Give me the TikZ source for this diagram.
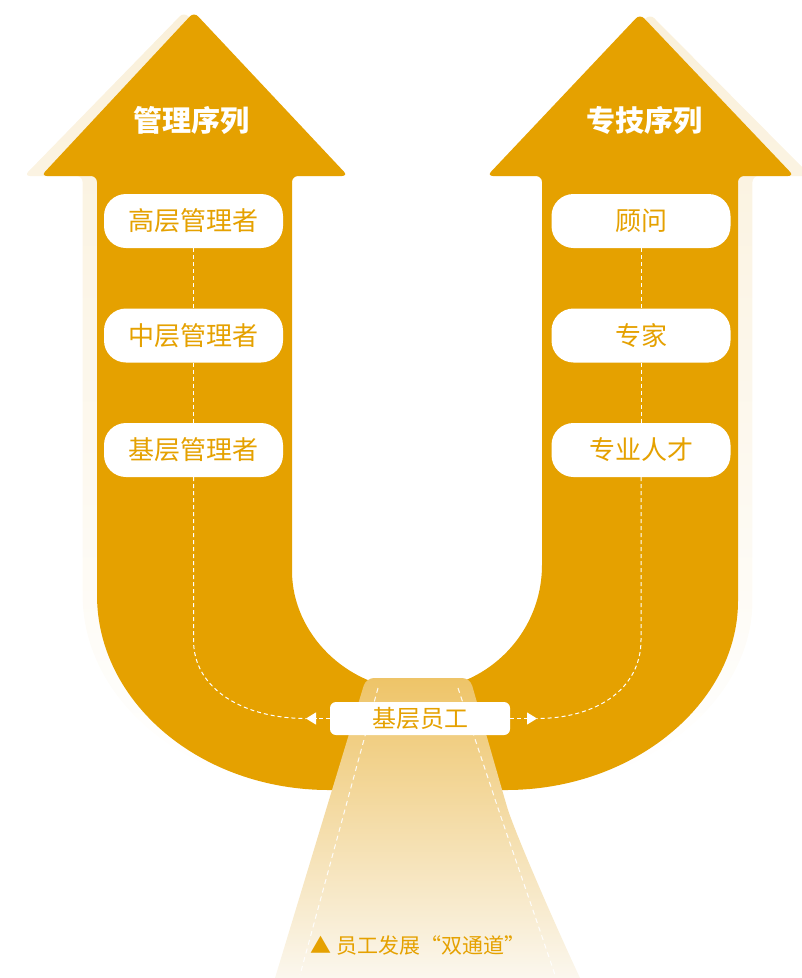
\documentclass[tikz,border=0pt]{standalone}
\usepackage{fontspec}
\setmainfont{Noto Sans CJK SC}
\usetikzlibrary{arrows.meta}
\definecolor{org}{RGB}{229,161,0}
\definecolor{cream}{RGB}{250,240,218}
\definecolor{roadtop}{RGB}{238,196,104}
\definecolor{roadbot}{RGB}{251,247,238}
\newcommand\Upath{(97,400) [rounded corners=6pt] -- (97,176) -- (41,176) -- (194,12) -- (348,176) -- (292,176) -- (292,565) [sharp corners] arc[start angle=180,end angle=0,radius=125] [rounded corners=6pt] -- (542,176) -- (487,176) -- (640,14) -- (794,176) -- (738,176) -- (738,595) [sharp corners] arc[start angle=0,end angle=90,x radius=232,y radius=195] -- (329,790) arc[start angle=90,end angle=180,x radius=232,y radius=195] -- cycle}
\tikzset{
  pill/.style={fill=white, rounded corners=22pt, minimum width=179pt, minimum height=54pt, inner sep=0pt, text=org, font=\fontsize{26}{26}\selectfont},
  basebox/.style={fill=white, rounded corners=6pt, minimum width=180pt, minimum height=33pt, inner sep=0pt, text=org, font=\fontsize{24}{24}\selectfont},
  title/.style={text=white, font=\fontsize{29}{29}\selectfont\bfseries, inner sep=0pt},
  udash/.style={white, line width=1pt, dash pattern=on 4pt off 3pt},
  rdash/.style={white, opacity=0.9, line width=1pt, dash pattern=on 5pt off 4pt}
}
\begin{document}
\begin{tikzpicture}[x=1pt,y=-1pt]
\useasboundingbox (0,0) rectangle (802,978);
% shadow
\begin{scope}[xshift=417pt, xscale=1.045, xshift=-417pt]
\shade[top color=cream, bottom color=white] \Upath;
\end{scope}
% U arrow
\fill[org] \Upath;
% road
\shade[top color=roadtop, bottom color=roadbot] (275,978) [rounded corners=8pt] -- (366,678) -- (470,678) -- (505,800) [sharp corners] .. controls (514,830) and (552,918) .. (580,978) -- cycle;
\draw[rdash] (378,688) -- (300,975);
\draw[rdash] (458,688) -- (492,790) .. controls (500,815) and (540,930) .. (555,975);
% titles
\node[title] (t1) at (191,120) {管理序列};
\node[title] (t2) at (644,120) {专技序列};
% boxes
\node[pill] (hl) at (193.5,221) {高层管理者};
\node[pill] (ml) at (193.5,335.5) {中层管理者};
\node[pill] (bl) at (193.5,450) {基层管理者};
\node[pill] (gw) at (641,221) {顾问};
\node[pill] (zj) at (641,335.5) {专家};
\node[pill] (zy) at (641,450) {专业人才};
\node[basebox] (ee) at (420,718.5) {基层员工};
\node[text=org, font=\fontsize{21}{21}\selectfont, inner sep=0pt] (lab) at (418,945) {▲ 员工发展“双通道”};
% connectors
\coordinate (lt) at (306,718.5);
\coordinate (rt) at (537,718.5);
\draw[udash] (hl.south) -- (ml.north);
\draw[udash] (ml.south) -- (bl.north);
\draw[udash] (gw.south) -- (zj.north);
\draw[udash] (zj.south) -- (zy.north);
\draw[udash] (bl.south) -- (193.5,640) .. controls (193.5,690) and (245,718.5) .. (lt);
\draw[udash] (zy.south) -- (641,640) .. controls (641,690) and (595,718.5) .. (rt);
\draw[udash, -{Triangle[width=12pt,length=10pt]}] (ee.west) -- (lt);
\draw[udash, -{Triangle[width=12pt,length=10pt]}] (ee.east) -- (rt);
\end{tikzpicture}
\end{document}
